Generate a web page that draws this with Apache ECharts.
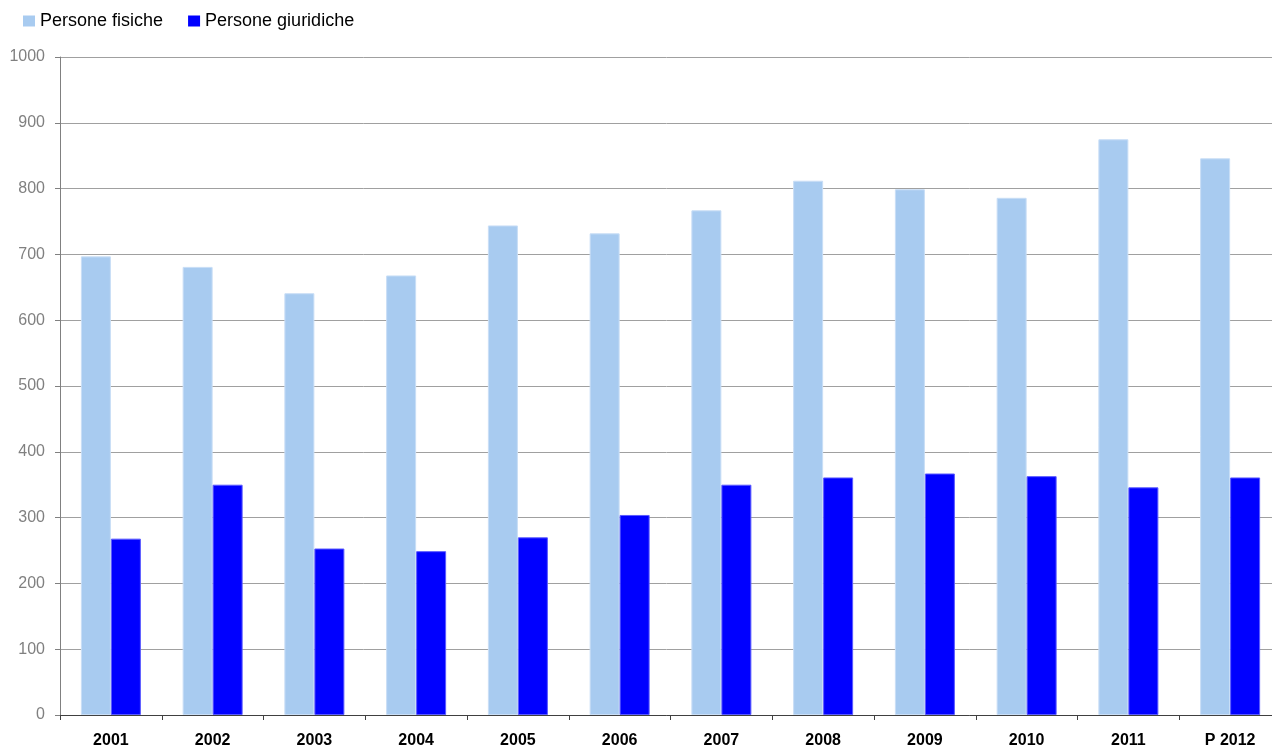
<!DOCTYPE html>
<html>
<head>
<meta charset="utf-8">
<title>Persone fisiche / giuridiche</title>
<script src="https://cdn.jsdelivr.net/npm/echarts@6/dist/echarts.min.js"></script>
<style>
  html, body { margin: 0; padding: 0; background: #fff; }
  #chart { width: 1272px; height: 751px; }
</style>
</head>
<body>
<div id="chart"></div>
<script>
  // categorie (anni)
  var years = ['2001', '2002', '2003', '2004', '2005', '2006', '2007', '2008', '2009', '2010', '2011', 'P 2012'];
  // valori
  var personeFisiche = [697, 681, 641, 668, 744, 732, 767, 812, 799, 786, 875, 846];
  var personeGiuridiche = [268, 350, 253, 249, 270, 304, 350, 361, 367, 363, 346, 361];
  var yTicks = { min: 0, max: 1000, step: 100 };

  var chart = echarts.init(document.getElementById('chart'));
  var font = "'Liberation Sans', Arial, sans-serif";

  chart.setOption({
    animation: false,
    textStyle: { fontFamily: font },
    legend: {
      left: 18,
      top: 7,
      itemWidth: 12,
      itemHeight: 11,
      itemGap: 25,
      itemStyle: { borderWidth: 0 },
      textStyle: { fontSize: 18, color: '#000', fontFamily: font },
      data: [
        { name: 'Persone fisiche', icon: 'rect' },
        { name: 'Persone giuridiche', icon: 'rect' }
      ]
    },
    grid: {
      left: 60,
      top: 57,
      width: 1221,
      height: 658,
      outerBoundsMode: 'none'
    },
    xAxis: {
      type: 'category',
      data: years,
      axisLine: { lineStyle: { color: '#404040', width: 1 } },
      axisTick: { show: true, length: 5, lineStyle: { color: '#404040' } },
      axisLabel: {
        margin: 18,
        fontSize: 16,
        fontWeight: 'bold',
        color: '#000',
        fontFamily: font,
        interval: 0
      },
      splitLine: { show: false }
    },
    yAxis: {
      type: 'value',
      min: yTicks.min,
      max: yTicks.max,
      interval: yTicks.step,
      axisLine: { show: true, lineStyle: { color: '#808080' } },
      axisTick: { show: true, length: 5, lineStyle: { color: '#808080' } },
      axisLabel: {
        fontSize: 16,
        color: '#808080',
        margin: 15,
        fontFamily: font,
        formatter: function (v) { return String(v); }
      },
      splitLine: { lineStyle: { color: '#a0a0a0', width: 1 } }
    },
    series: [
      {
        name: 'Persone fisiche',
        type: 'bar',
        barWidth: 30,
        barGap: '0%',
        itemStyle: { color: '#a8cbf0', borderColor: '#c9def6', borderWidth: 1 },
        data: personeFisiche
      },
      {
        name: 'Persone giuridiche',
        type: 'bar',
        barWidth: 30,
        barGap: '0%',
        itemStyle: { color: '#0000ff', borderColor: '#5a5aff', borderWidth: 1 },
        data: personeGiuridiche
      }
    ]
  });
</script>
</body>
</html>
